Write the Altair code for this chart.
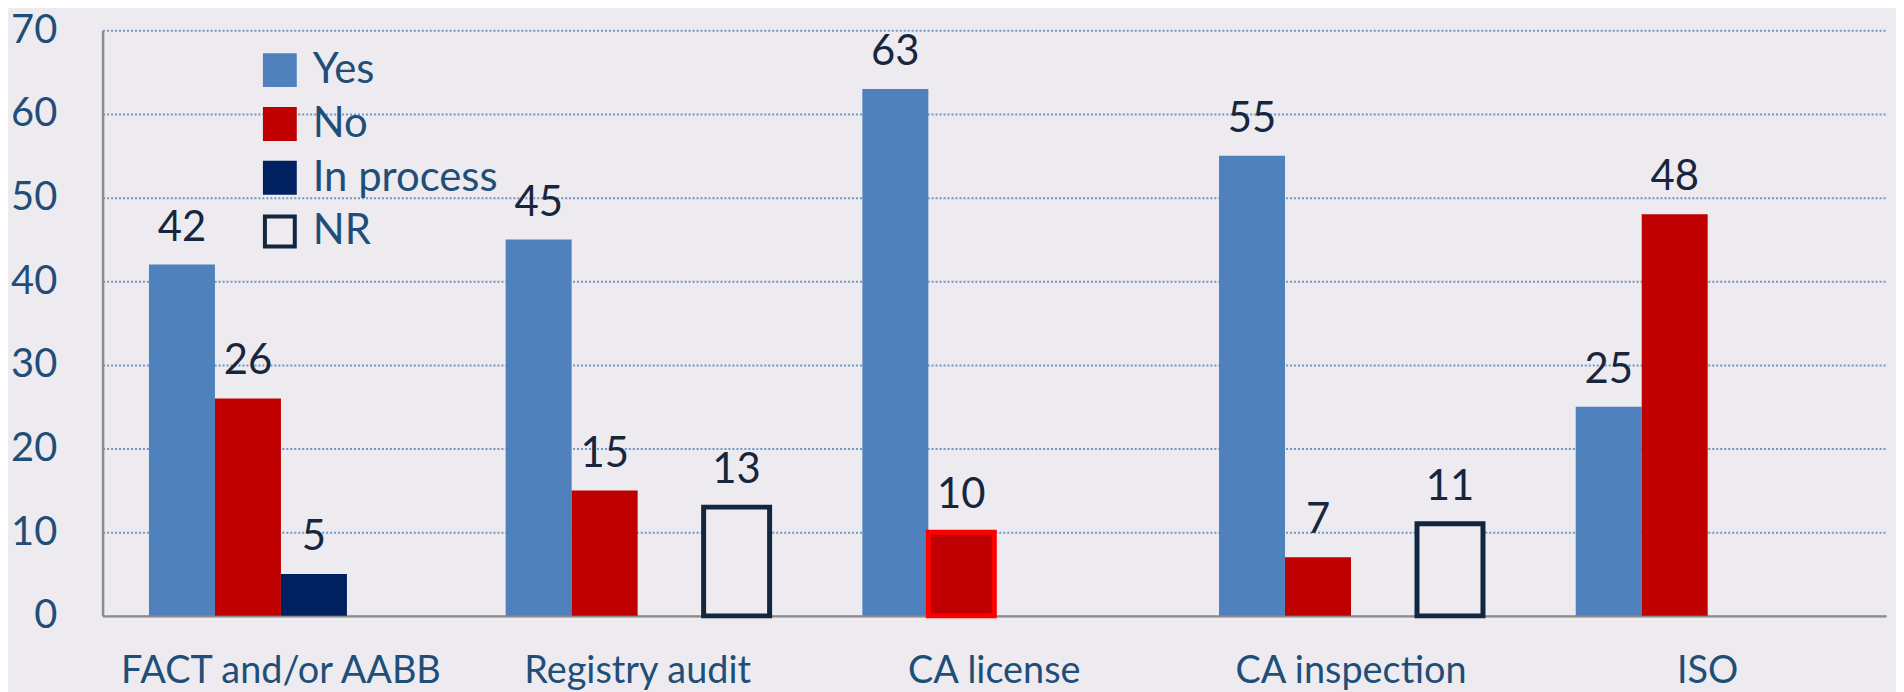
import altair as alt
import pandas as pd

categories = ["FACT and/or AABB", "Registry audit", "CA license", "CA inspection", "ISO"]
series = ["Yes", "No", "In process", "NR"]
yes_vals = [42, 45, 63, 55, 25]
no_vals = [26, 15, 10, 7, 48]
inproc_vals = [5, None, None, None, None]
nr_vals = [None, 13, None, 11, None]
highlight = [("CA license", "No")]

fill_colors = ["#4F81BD", "#C00000", "#002060", "#EDEBEF"]
stroke_colors = ["#4F81BD", "#C00000", "#002060", "#13263F"]
BG = "#EDEBEF"
FONT = "Lato"

rows = []
for s, vals in zip(series, [yes_vals, no_vals, inproc_vals, nr_vals]):
    for c, v in zip(categories, vals):
        if v is not None:
            rows.append({"cat": c, "series": s, "value": v,
                         "hl": (c, s) in highlight,
                         "sw": 5 if s == "NR" else 0})
df = pd.DataFrame(rows)

x = alt.X("cat:N", sort=categories, title=None,
          scale=alt.Scale(paddingInner=0.26, paddingOuter=0.13),
          axis=alt.Axis(labelAngle=0, ticks=False, labelFontSize=38, labelFont=FONT,
                        labelColor="#1F4E79", labelPadding=37, labelLimit=0,
                        domainColor="#8C8C8C", domainWidth=2.5, grid=False))
xoff = alt.XOffset("series:N", sort=series, scale=alt.Scale(domain=series, paddingInner=0, paddingOuter=0))
y = alt.Y("value:Q", title=None,
          scale=alt.Scale(domain=[0, 70], nice=False),
          axis=alt.Axis(values=[0, 10, 20, 30, 40, 50, 60, 70], ticks=False, labelFontSize=40,
                        labelFont=FONT, labelColor="#1F4E79", labelPadding=46,
                        domainColor="#8C8C8C", domainWidth=2.5,
                        gridColor="#4F81BD", gridDash=[2, 2], gridWidth=2, gridOpacity=0.8))

bars = alt.Chart(df).mark_bar().encode(
    x=x, xOffset=xoff, y=y,
    fill=alt.Fill("series:N", sort=series,
                  scale=alt.Scale(domain=series, range=fill_colors),
                  legend=alt.Legend(title=None, orient="none", legendX=157, legendY=19,
                                    symbolType="square", symbolSize=900, symbolStrokeWidth=4,
                                    labelFontSize=42, labelFont=FONT, labelColor="#1F4E79",
                                    rowPadding=8, labelOffset=12, labelLimit=400)),
    stroke=alt.Stroke("series:N", sort=series,
                      scale=alt.Scale(domain=series, range=stroke_colors), legend=None),
    strokeWidth=alt.StrokeWidth("sw:Q", scale=None, legend=None),
)

hl = alt.Chart(df).transform_filter("datum.hl").mark_bar(
    fill="#C00000", stroke="#FF0000", strokeWidth=5).encode(x=x, xOffset=xoff, y=y)

labels = alt.Chart(df).mark_text(
    baseline="alphabetic", dy=-24, fontSize=42, font=FONT, color="#17263C"
).encode(x=x, xOffset=xoff, y=y, text=alt.Text("value:Q"))

chart = alt.layer(bars, hl, labels).properties(
    width=1791, height=588, background=BG,
    autosize=alt.AutoSizeParams(type="none"),
    padding={"left": 95, "top": 21, "right": 10, "bottom": 75},
).configure_view(stroke=None).configure_legend(symbolStrokeColor="#13263F")

chart.save("out.html", embed_options={"renderer": "svg", "actions": False})
